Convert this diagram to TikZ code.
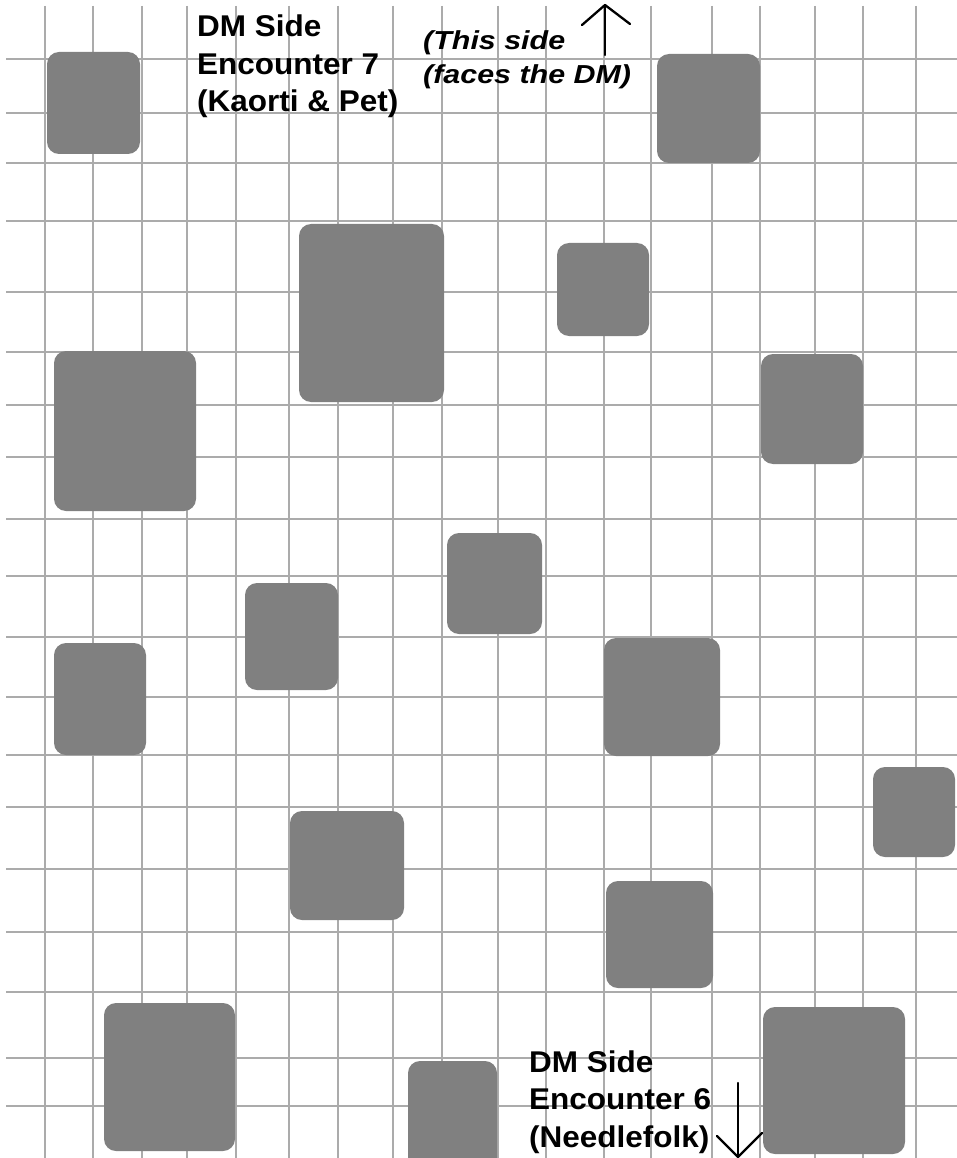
\documentclass[tikz,border=0pt]{standalone}
\usepackage{fontspec}
\newfontfamily\lblfont[FakeStretch=1.05]{Liberation Sans Bold}
\newfontfamily\notefont[FakeStretch=1.17]{Liberation Sans Bold Italic}
\definecolor{gridgrey}{HTML}{ABABAB}
\definecolor{blockgrey}{HTML}{808080}
\begin{document}
\begin{tikzpicture}[x=1pt,y=-1pt,
  gridline/.style={draw=gridgrey, line width=1.4pt},
  block/.style={fill=blockgrey, rounded corners=12pt},
  lbl/.style={font=\lblfont\fontsize{30}{36}\selectfont, inner sep=0pt, anchor=base west, text=black},
  note/.style={font=\notefont\fontsize{26}{32}\selectfont, inner sep=0pt, anchor=base west, text=black},
  arrowline/.style={draw=black, line width=2.3pt, line join=round, line cap=round}]
\useasboundingbox (0,0) rectangle (957,1158);
\fill[white] (0,0) rectangle (957,1158);
\clip (0,0) rectangle (957,1158);
% grid
\foreach \x in {45,93,142,187,236,289,338,393,442,498,546,604,651,712,760,815,863,916}
  \draw[gridline] (\x,6) -- (\x,1158);
\foreach \y in {59,113,163,221,292,352,405,457,519,576,637,697,755,807,869,932,992,1058,1106}
  \draw[gridline] (6,\y) -- (957,\y);
% blocks
\fill[block] (47,52) rectangle (140,154);
\fill[block] (299,224) rectangle (444,402);
\fill[block] (657,54) rectangle (760,163);
\fill[block] (557,243) rectangle (649,336);
\fill[block] (54,351) rectangle (196,511);
\fill[block] (761,354) rectangle (863,464);
\fill[block] (245,583) rectangle (338,690);
\fill[block] (447,533) rectangle (542,634);
\fill[block] (54,643) rectangle (146,755);
\fill[block] (604,638) rectangle (720,756);
\fill[block] (873,767) rectangle (955,857);
\fill[block] (290,811) rectangle (404,920);
\fill[block] (606,881) rectangle (713,988);
\fill[block] (104,1003) rectangle (235,1151);
\fill[block] (408,1061) rectangle (497,1175);
\fill[block] (763,1007) rectangle (905,1154);
% labels
\node[lbl] (dm7a) at (197,37) {DM Side};
\node[lbl] (dm7b) at (197,74.5) {Encounter 7};
\node[lbl] (dm7c) at (197,112) {(Kaorti \& Pet)};
\node[note] (facea) at (423,50) {(This side};
\node[note] (faceb) at (423,84) {(faces the DM)};
\node[lbl] (dm6a) at (529,1072) {DM Side};
\node[lbl] (dm6b) at (529,1109.5) {Encounter 6};
\node[lbl] (dm6c) at (529,1147) {(Needlefolk)};
% arrows
\coordinate (uptip) at (605,5);
\coordinate (upbase) at (605,55);
\coordinate (upl) at (582,25);
\coordinate (upr) at (630,24);
\draw[arrowline] (upbase) -- (uptip);
\draw[arrowline] (upl) -- (uptip) -- (upr);
\coordinate (dntip) at (738,1157);
\coordinate (dnbase) at (738,1083);
\coordinate (dnl) at (717,1136);
\coordinate (dnr) at (762,1133);
\draw[arrowline] (dnbase) -- (dntip);
\draw[arrowline] (dnl) -- (dntip) -- (dnr);
\end{tikzpicture}
\end{document}
